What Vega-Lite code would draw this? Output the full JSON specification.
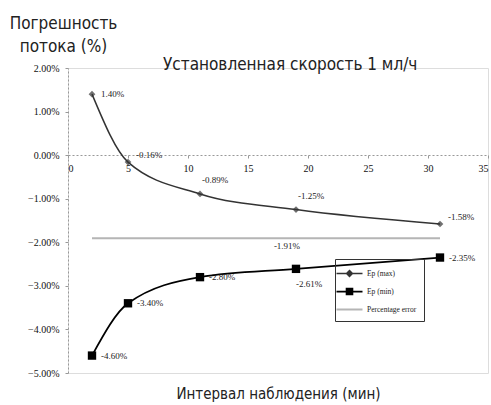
{
  "$schema": "https://vega.github.io/schema/vega-lite/v6.json",
  "autosize": "none",
  "width": 420,
  "height": 305,
  "padding": {"left": 68, "top": 68, "right": 3, "bottom": 32},
  "background": "white",
  "title": {
    "text": "Установленная скорость 1 мл/ч",
    "anchor": "start",
    "frame": "group",
    "dx": 95,
    "dy": 62,
    "fontSize": 17,
    "font": "DejaVu Sans Condensed",
    "fontWeight": "normal",
    "color": "#222",
    "offset": 2
  },
  "data": {
    "values": [
      {"x": 2, "e": 1.40, "series": "Ep (max)", "label": "1.40%"},
      {"x": 5, "e": -0.16, "series": "Ep (max)", "label": "-0.16%"},
      {"x": 11, "e": -0.89, "series": "Ep (max)", "label": "-0.89%"},
      {"x": 19, "e": -1.25, "series": "Ep (max)", "label": "-1.25%"},
      {"x": 31, "e": -1.58, "series": "Ep (max)", "label": "-1.58%"},
      {"x": 2, "e": -4.60, "series": "Ep (min)", "label": "-4.60%"},
      {"x": 5, "e": -3.40, "series": "Ep (min)", "label": "-3.40%"},
      {"x": 11, "e": -2.80, "series": "Ep (min)", "label": "-2.80%"},
      {"x": 19, "e": -2.61, "series": "Ep (min)", "label": "-2.61%"},
      {"x": 31, "e": -2.35, "series": "Ep (min)", "label": "-2.35%"},
      {"x": 2, "e": -1.91, "series": "Percentage error", "label": "-1.91%"},
      {"x": 31, "e": -1.91, "series": "Percentage error", "label": "-1.91%"}
    ]
  },
  "encoding": {
    "x": {
      "field": "x", "type": "quantitative",
      "scale": {"domain": [0, 35], "nice": false, "zero": false},
      "axis": {
        "offset": -218,
        "values": [0, 5, 10, 15, 20, 25, 30, 35],
        "grid": false,
        "domainColor": "#999", "domainDash": [2, 2], "domainWidth": 1,
        "tickColor": "#999", "tickSize": 3,
        "labelFont": "Liberation Serif", "labelFontSize": 10, "labelColor": "#111", "labelPadding": 5,
        "title": "Интервал наблюдения (мин)",
        "titleFont": "DejaVu Sans Condensed", "titleFontSize": 15, "titleFontWeight": "normal", "titleColor": "#222",
        "titleY": 243, "titleBaseline": "alphabetic"
      }
    },
    "y": {
      "field": "e", "type": "quantitative",
      "scale": {"domain": [-5, 2], "nice": false, "zero": false},
      "axis": {
        "values": [-5, -4, -3, -2, -1, 0, 1, 2],
        "labelExpr": "format(datum.value, '.2f') + '%'",
        "grid": false,
        "domainColor": "#999", "domainDash": [2, 2], "domainWidth": 1,
        "tickColor": "#999", "tickSize": 3,
        "labelFont": "Liberation Serif", "labelFontSize": 10, "labelColor": "#111", "labelPadding": 6,
        "title": ["Погрешность", "потока (%)"],
        "titleFont": "DejaVu Sans Condensed", "titleFontSize": 17, "titleFontWeight": "normal", "titleColor": "#222",
        "titleAngle": 0, "titleAlign": "center", "titleX": -5, "titleY": -40,
        "titleBaseline": "alphabetic", "titleLineHeight": 23
      }
    }
  },
  "layer": [
    {
      "mark": {"type": "line", "interpolate": "monotone"},
      "encoding": {
        "detail": {"field": "series"},
        "color": {
          "field": "series", "type": "nominal",
          "scale": {"domain": ["Ep (max)", "Ep (min)", "Percentage error"], "range": ["#333333", "#000000", "#b5b5b5"]},
          "legend": {
            "title": null,
            "orient": "none", "legendX": 267, "legendY": 191,
            "strokeColor": "#333", "padding": 7,
            "symbolSize": 169, "symbolStrokeWidth": 1.5,
            "labelFont": "Liberation Serif", "labelFontSize": 7.5, "labelColor": "#222", "labelOffset": 10,
            "rowPadding": 4,
            "encode": {
              "symbols": {
                "update": {
                  "shape": {"signal": "datum.value === 'Ep (max)' ? 'M-2,0H2M0,-0.45L0.45,0L0,0.45L-0.45,0Z' : datum.value === 'Ep (min)' ? 'M-2,0H2M-0.45,-0.45H0.45V0.45H-0.45Z' : 'M-2,0H2'"},
                  "fill": {"signal": "datum.value === 'Ep (max)' ? '#333333' : datum.value === 'Ep (min)' ? '#000000' : 'transparent'"}
                }
              }
            }
          }
        },
        "strokeWidth": {
          "field": "series", "type": "nominal",
          "scale": {"domain": ["Ep (max)", "Ep (min)", "Percentage error"], "range": [1.5, 2, 1.5]},
          "legend": null
        }
      }
    },
    {
      "transform": [{"filter": "datum.series === 'Ep (max)'"}],
      "mark": {"type": "point", "shape": "diamond", "filled": true, "size": 45, "color": "#333333"}
    },
    {
      "transform": [{"filter": "datum.series === 'Ep (min)'"}],
      "mark": {"type": "square", "size": 70, "color": "#000000", "opacity": 1}
    },
    {
      "transform": [{"filter": "(datum.series === 'Ep (min)' && datum.x !== 19) || (datum.series === 'Ep (max)' && datum.x === 2)"}],
      "mark": {"type": "text", "align": "left", "baseline": "middle", "dx": 9, "dy": 0, "font": "Liberation Serif", "fontSize": 9, "color": "#222"},
      "encoding": {"text": {"field": "label"}}
    },
    {
      "transform": [{"filter": "datum.series === 'Ep (max)' && (datum.x === 5 || datum.x === 31)"}],
      "mark": {"type": "text", "align": "left", "baseline": "middle", "dx": 8, "dy": -7, "font": "Liberation Serif", "fontSize": 9, "color": "#222"},
      "encoding": {"text": {"field": "label"}}
    },
    {
      "transform": [{"filter": "datum.series === 'Ep (max)' && (datum.x === 11 || datum.x === 19)"}],
      "mark": {"type": "text", "align": "left", "baseline": "middle", "dx": 2, "dy": -14, "font": "Liberation Serif", "fontSize": 9, "color": "#222"},
      "encoding": {"text": {"field": "label"}}
    },
    {
      "transform": [{"filter": "datum.series === 'Ep (min)' && datum.x === 19"}],
      "mark": {"type": "text", "align": "left", "baseline": "middle", "dx": 0, "dy": 15, "font": "Liberation Serif", "fontSize": 9, "color": "#222"},
      "encoding": {"text": {"field": "label"}}
    },
    {
      "transform": [
        {"filter": "datum.series === 'Percentage error'"},
        {"aggregate": [{"op": "mean", "field": "x", "as": "x"}, {"op": "mean", "field": "e", "as": "e"}, {"op": "min", "field": "label", "as": "label"}], "groupby": ["series"]}
      ],
      "mark": {"type": "text", "align": "center", "baseline": "middle", "dx": 21, "dy": 8, "font": "Liberation Serif", "fontSize": 9, "color": "#222"},
      "encoding": {"text": {"field": "label"}}
    }
  ]
}
